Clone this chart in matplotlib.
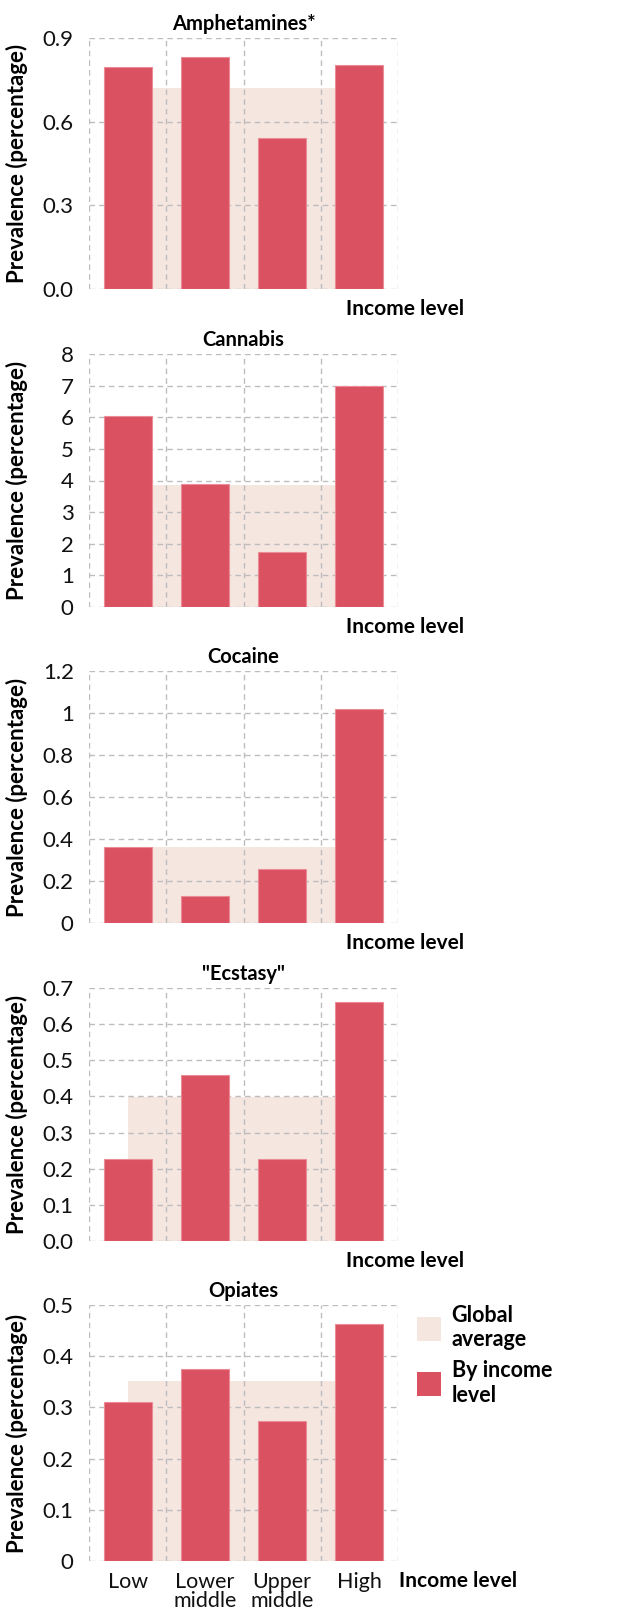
import matplotlib.pyplot as plt
import matplotlib.ticker as mticker
from matplotlib.patches import Patch

plt.rcParams['font.family'] = ['Lato', 'DejaVu Sans']

# data
income_levels = ["Low", "Lower\nmiddle", "Upper\nmiddle", "High"]
drugs = ["Amphetamines*", "Cannabis", "Cocaine", '"Ecstasy"', "Opiates"]

amphetamines = [0.797, 0.832, 0.541, 0.803]
cannabis = [6.03, 3.89, 1.74, 6.99]
cocaine = [0.363, 0.130, 0.257, 1.018]
ecstasy = [0.228, 0.458, 0.226, 0.660]
opiates = [0.311, 0.375, 0.273, 0.463]

global_avg = [0.720, 3.87, 0.363, 0.399, 0.351]

y_ticks = [
    [0.0, 0.3, 0.6, 0.9],
    [0, 1, 2, 3, 4, 5, 6, 7, 8],
    [0, 0.2, 0.4, 0.6, 0.8, 1.0, 1.2],
    [0.0, 0.1, 0.2, 0.3, 0.4, 0.5, 0.6, 0.7],
    [0, 0.1, 0.2, 0.3, 0.4, 0.5],
]
y_fmt = ["{:.1f}", "{:.0f}", "{:g}", "{:.1f}", "{:g}"]

series = [amphetamines, cannabis, cocaine, ecstasy, opiates]

bar_color = '#DA5161'
band_color = '#F6E6E0'
grid_color = '#BDBDBD'

W, H = 628, 1614
fig = plt.figure(figsize=(W / 100, H / 100), dpi=100)

# panel top / bottom in pixels
panels_px = [(38, 289), (354, 607), (671, 923), (988, 1241), (1305, 1561)]
left_px, right_px = 89, 398

x = list(range(len(income_levels)))

for i, (name, vals) in enumerate(zip(drugs, series)):
    top, bot = panels_px[i]
    ax = fig.add_axes([left_px / W, 1 - bot / H, (right_px - left_px) / W, (bot - top) / H])

    # global average band from centre of first to centre of last category
    ax.fill_between([x[0], x[-1]], 0, global_avg[i], color=band_color, zorder=0.2, linewidth=0)
    ax.bar(x, vals, width=0.62, color=bar_color, edgecolor='#EB8C97', linewidth=0.8, zorder=2)

    ax.set_xlim(-0.5, 3.5)
    ax.set_ylim(0, y_ticks[i][-1])
    ax.set_yticks(y_ticks[i])
    fmt = y_fmt[i]
    ax.yaxis.set_major_formatter(mticker.FuncFormatter(lambda v, p, fmt=fmt: fmt.format(v)))

    ax.set_xticks(x)
    ax.set_xticks([-0.5, 0.5, 1.5, 2.5, 3.5], minor=True)
    ax.grid(True, which='minor', axis='x', linestyle=(0, (4, 3)), color=grid_color, linewidth=1)
    ax.grid(True, which='major', axis='y', linestyle=(0, (4, 3)), color=grid_color, linewidth=1)
    ax.set_axisbelow(True)
    for s in ax.spines.values():
        s.set_visible(False)

    ax.tick_params(axis='both', which='both', length=0)
    ax.tick_params(axis='y', labelsize=16, pad=11, colors='#111111')
    ax.set_title(name, fontsize=14.5, fontweight='bold', pad=6)

    yc = 1 - (top + bot) / 2 / H
    fig.text(17 / W, yc, "Prevalence (percentage)", rotation=90, ha='center', va='center',
             fontsize=16, fontweight='bold')

    if i < len(drugs) - 1:
        ax.set_xticklabels([])
        fig.text(405 / W, 1 - (bot + 20) / H, "Income level", ha='center', va='center',
                 fontsize=15, fontweight='bold')
    else:
        ax.set_xticklabels(income_levels, fontsize=15.5, linespacing=0.95)
        ax.tick_params(axis='x', pad=8, colors='#111111')
        fig.text(399 / W, 1 - (bot + 20) / H, "Income level", ha='left', va='center',
                 fontsize=15, fontweight='bold')

        handles = [Patch(facecolor=band_color), Patch(facecolor=bar_color)]
        fig.legend(handles, ["Global\naverage", "By income\nlevel"],
                   loc='upper left', bbox_to_anchor=(402 / W, 1 - 1290 / H),
                   frameon=False, handlelength=1.1, handleheight=1.3,
                   prop={'size': 15.5, 'weight': 'bold'}, labelspacing=0.45,
                   handletextpad=0.5, borderaxespad=0.3)

fig.savefig("out.png", dpi=100)
